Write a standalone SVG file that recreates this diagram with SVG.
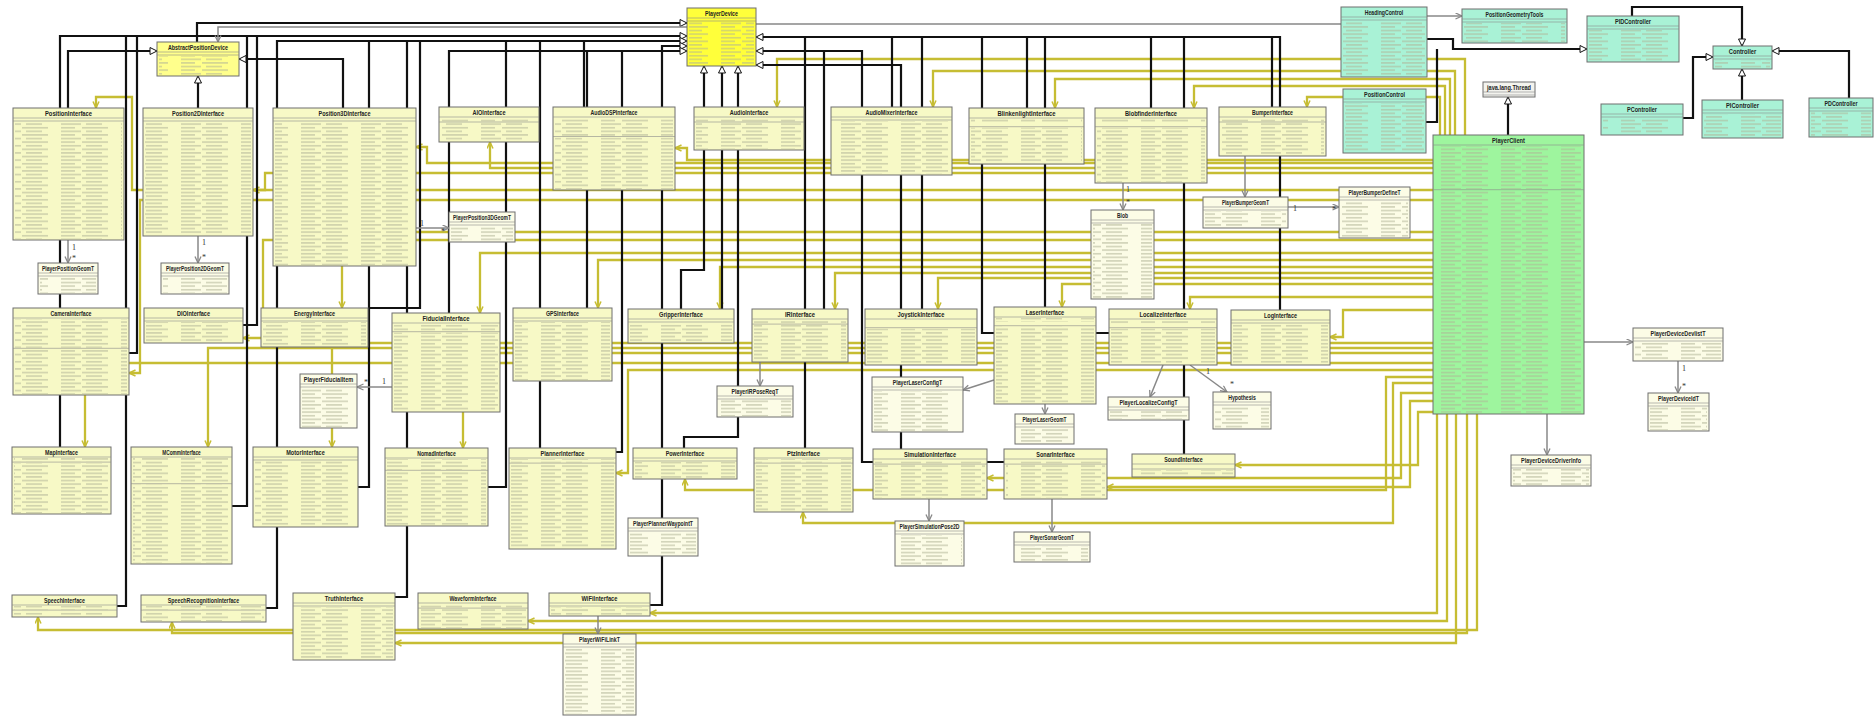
<svg xmlns="http://www.w3.org/2000/svg" width="1875" height="717" viewBox="0 0 1875 717">
<style>
.c{stroke:#6e6e6e;stroke-width:1}
.i{fill:#f7f9c6}.t{fill:#fcfce6}.pd{fill:#ffff3a}.ad{fill:#ffff8c}.gr{fill:#a9f2d6}.pc{fill:#9ef59e}.th{fill:#f3f3ee}
.n{font-family:"Liberation Sans",Arial,sans-serif;font-size:7px;font-weight:bold;fill:#222;text-anchor:middle}
.s{stroke:#8a8a8a;stroke-width:0.6;fill:none}
.m{fill:url(#tx)}
.k{fill:none;stroke:#111;stroke-width:2.2}
.o{fill:none;stroke:#c6bd33;stroke-width:2.3}
.a{fill:none;stroke:#888;stroke-width:1.5}
.lb{font-family:"Liberation Serif","Times New Roman",serif;font-size:8px;fill:#333}
.k.e{marker-end:url(#g)}.o{marker-end:url(#oa)}.a{marker-end:url(#ga)}
</style>
<defs>
<pattern id="tx" width="60" height="7.2" patternUnits="userSpaceOnUse"><rect x="1" y="1.3" width="20" height="0.9" fill="#b0b396"/><rect x="26" y="1.3" width="16" height="0.9" fill="#b0b396"/><rect x="1" y="4.9" width="14" height="0.9" fill="#b0b396"/><rect x="22" y="4.9" width="26" height="0.9" fill="#b0b396"/></pattern>
<marker id="g" markerUnits="userSpaceOnUse" markerWidth="10" markerHeight="10" refX="8" refY="4" orient="auto"><path d="M1,0.5 L8,4 L1,7.5 z" fill="#fff" stroke="#111" stroke-width="1"/></marker>
<marker id="oa" markerUnits="userSpaceOnUse" markerWidth="9" markerHeight="9" refX="7" refY="3.5" orient="auto"><path d="M0.5,0.5 L7,3.5 L0.5,6.5" fill="none" stroke="#c6bd33" stroke-width="1.5"/></marker>
<marker id="ga" markerUnits="userSpaceOnUse" markerWidth="9" markerHeight="9" refX="7" refY="3.5" orient="auto"><path d="M0.5,0.5 L7,3.5 L0.5,6.5" fill="none" stroke="#888" stroke-width="1.3"/></marker>
</defs>
<rect width="1875" height="717" fill="#fff"/>
<g id="connectors">
<g id="olive">
<path class="o" d="M1465,135V59H777V107"/>
<path class="o" d="M1455,135V71H933V107"/>
<path class="o" d="M1450,135V79H1055V108"/>
<path class="o" d="M1445,135V86H1194V108"/>
<path class="o" d="M1440,135V97H1307V107"/>
<path class="o" d="M1433,160H687V148H675"/>
<path class="o" d="M1433,163H427V147H416"/>
<path class="o" d="M1433,168H490V142"/>
<path class="o" d="M1433,173H265V190H253"/>
<path class="o" d="M1433,190H132V97H96V108"/>
<path class="o" d="M1433,200H140V373H129"/>
<path class="o" d="M1433,232H342V308"/>
<path class="o" d="M1433,240H263V338H243"/>
<path class="o" d="M1433,253H480V313"/>
<path class="o" d="M1433,260H598V308"/>
<path class="o" d="M1433,267H720V309"/>
<path class="o" d="M1433,273H835V309"/>
<path class="o" d="M1433,278H938V309"/>
<path class="o" d="M1433,284H1062V307"/>
<path class="o" d="M1433,297H1190V309"/>
<path class="o" d="M1433,310H1343V337H1330"/>
<path class="o" d="M1433,343H332V447"/>
<path class="o" d="M1433,348H208V447"/>
<path class="o" d="M1433,353H463V448"/>
<path class="o" d="M1433,363H85V447"/>
<path class="o" d="M1433,370H628V473H616"/>
<path class="o" d="M1433,377H1386V490H685V479"/>
<path class="o" d="M1433,383H1393V523H803V512"/>
<path class="o" d="M1433,393H1401V478H987"/>
<path class="o" d="M1433,401H1410V487H1107"/>
<path class="o" d="M1433,412H1418V465H1235"/>
<path class="o" d="M1437,414V613H650"/>
<path class="o" d="M1447,414V621H528"/>
<path class="o" d="M1477,414V630H38V617"/>
<path class="o" d="M1467,414V633H172V622"/>
<path class="o" d="M1456,414V643H395"/>
</g>
<g id="generalization">
<path class="k e" d="M197,42V23H687"/>
<path class="k e" d="M60,447V36H687"/>
<path class="k" d="M126,36V606H117"/>
<path class="k" d="M137,36V353H129"/>
<path class="k" d="M247,36V506H232"/>
<path class="k" d="M257,36V325H243"/>
<path class="k e" d="M266,608H277V41H687"/>
<path class="k" d="M358,487H369V41"/>
<path class="k" d="M395,597H407V41"/>
<path class="k" d="M368,308H420V41"/>
<path class="k" d="M488,487H506V41"/>
<path class="k" d="M540,448V41"/>
<path class="k" d="M584,107V41"/>
<path class="k e" d="M650,605H662V46H687"/>
<path class="k e" d="M449,313V51H687"/>
<path class="k" d="M587,308V51"/>
<path class="k" d="M616,452H622V51"/>
<path class="k e" d="M681,309V270H704V66"/>
<path class="k e" d="M722,309V66"/>
<path class="k e" d="M684,448V437H738V66"/>
<path class="k e" d="M68,108V51H157"/>
<path class="k e" d="M198,108V76"/>
<path class="k e" d="M343,108V59H239"/>
<path class="k e" d="M1280,310V37H756"/>
<path class="k" d="M1109,333H982V37"/>
<path class="k" d="M1027,108V37"/>
<path class="k" d="M1045,307V37"/>
<path class="k" d="M1151,108V37"/>
<path class="k" d="M1184,454V37"/>
<path class="k" d="M1272,107V37"/>
<path class="k" d="M892,107V37"/>
<path class="k" d="M922,309V37"/>
<path class="k" d="M805,448V37"/>
<path class="k e" d="M1004,462H862V51H756"/>
<path class="k" d="M824,309V51"/>
<path class="k e" d="M901,449V65H756"/>
<path class="k e" d="M1508,135V97"/>
<path class="k e" d="M1427,39H1453V49H1587"/>
<path class="k" d="M1426,122H1437V49"/>
<path class="k e" d="M1632,16V7H1742V46"/>
<path class="k e" d="M1683,118H1693V57H1713"/>
<path class="k e" d="M1742,100V69"/>
<path class="k e" d="M1849,98V51H1772"/>
</g>
<g id="associations">
<path class="a" d="M1341,24H720V27H218V42"/>
<path class="a" d="M1427,16H1462"/>
<path class="a" d="M68,240V263"/>
<path class="a" d="M198,236V263"/>
<path class="a" d="M416,228H449"/>
<path class="a" d="M392,387H357"/>
<path class="a" d="M760,362V386"/>
<path class="a" d="M994,380L963,390"/>
<path class="a" d="M1045,404V414"/>
<path class="a" d="M1163,365L1150,397"/>
<path class="a" d="M1190,365L1227,392"/>
<path class="a" d="M929,499V521"/>
<path class="a" d="M1052,499V532"/>
<path class="a" d="M1123,183V210"/>
<path class="a" d="M1245,156V197"/>
<path class="a" d="M1288,207H1339"/>
<path class="a" d="M1547,414V455"/>
<path class="a" d="M1584,342H1633"/>
<path class="a" d="M1678,361V393"/>
<path class="a" d="M598,616V634"/>
</g>
</g>
<g id="nodes">
<g id="PlayerDevice"><rect class="c pd" x="687" y="8" width="69" height="58"/><text class="n" x="721.5" y="15.5" textLength="33" lengthAdjust="spacingAndGlyphs">PlayerDevice</text><path class="s" d="M687,18H756M687,21H756"/><rect class="m" x="689" y="22" width="65" height="43"/></g>
<g id="AbstractPositionDevice"><rect class="c ad" x="157" y="42" width="82" height="34"/><text class="n" x="198" y="49.5" textLength="60" lengthAdjust="spacingAndGlyphs">AbstractPositionDevice</text><path class="s" d="M157,52H239M157,55H239"/><rect class="m" x="159" y="56" width="78" height="19"/></g>
<g id="PositionInterface"><rect class="c i" x="13" y="108" width="111" height="132"/><text class="n" x="68.5" y="115.5" textLength="47" lengthAdjust="spacingAndGlyphs">PositionInterface</text><path class="s" d="M13,118H124M13,121H124"/><rect class="m" x="15" y="122" width="107" height="117"/></g>
<g id="Position2DInterface"><rect class="c i" x="143" y="108" width="110" height="128"/><text class="n" x="198" y="115.5" textLength="52" lengthAdjust="spacingAndGlyphs">Position2DInterface</text><path class="s" d="M143,118H253M143,121H253"/><rect class="m" x="145" y="122" width="106" height="113"/></g>
<g id="Position3DInterface"><rect class="c i" x="273" y="108" width="143" height="158"/><text class="n" x="344.5" y="115.5" textLength="52" lengthAdjust="spacingAndGlyphs">Position3DInterface</text><path class="s" d="M273,118H416M273,121H416"/><rect class="m" x="275" y="122" width="139" height="143"/></g>
<g id="AIOInterface"><rect class="c i" x="439" y="107" width="100" height="35"/><text class="n" x="489" y="114.5" textLength="33" lengthAdjust="spacingAndGlyphs">AIOInterface</text><path class="s" d="M439,117H539M439,122H539"/><rect class="m" x="441" y="118" width="96" height="3.6"/><rect class="m" x="441" y="123" width="96" height="18"/></g>
<g id="AudioDSPInterface"><rect class="c i" x="553" y="107" width="122" height="83"/><text class="n" x="614" y="114.5" textLength="47" lengthAdjust="spacingAndGlyphs">AudioDSPInterface</text><path class="s" d="M553,117H675M553,136.5H675"/><rect class="m" x="555" y="118" width="118" height="18"/><rect class="m" x="555" y="137.5" width="118" height="51.5"/></g>
<g id="AudioInterface"><rect class="c i" x="694" y="107" width="110" height="43"/><text class="n" x="749" y="114.5" textLength="38.5" lengthAdjust="spacingAndGlyphs">AudioInterface</text><path class="s" d="M694,117H804M694,122H804"/><rect class="m" x="696" y="118" width="106" height="3.6"/><rect class="m" x="696" y="123" width="106" height="26"/></g>
<g id="AudioMixerInterface"><rect class="c i" x="831" y="107" width="121" height="68"/><text class="n" x="891.5" y="114.5" textLength="52" lengthAdjust="spacingAndGlyphs">AudioMixerInterface</text><path class="s" d="M831,117H952M831,120H952"/><rect class="m" x="833" y="121" width="117" height="53"/></g>
<g id="BlinkenlightInterface"><rect class="c i" x="969" y="108" width="115" height="56"/><text class="n" x="1026.5" y="115.5" textLength="58" lengthAdjust="spacingAndGlyphs">BlinkenlightInterface</text><path class="s" d="M969,118H1084M969,126.7H1084"/><rect class="m" x="971" y="119" width="111" height="3.6"/><rect class="m" x="971" y="127.7" width="111" height="35"/></g>
<g id="BlobfinderInterface"><rect class="c i" x="1095" y="108" width="112" height="75"/><text class="n" x="1151" y="115.5" textLength="52" lengthAdjust="spacingAndGlyphs">BlobfinderInterface</text><path class="s" d="M1095,118H1207M1095,126.7H1207"/><rect class="m" x="1097" y="119" width="108" height="3.6"/><rect class="m" x="1097" y="127.7" width="108" height="54"/></g>
<g id="BumperInterface"><rect class="c i" x="1219" y="107" width="107" height="49"/><text class="n" x="1272.5" y="114.5" textLength="41" lengthAdjust="spacingAndGlyphs">BumperInterface</text><path class="s" d="M1219,117H1326M1219,122H1326"/><rect class="m" x="1221" y="118" width="103" height="3.6"/><rect class="m" x="1221" y="123" width="103" height="32"/></g>
<g id="HeadingControl"><rect class="c gr" x="1341" y="7" width="86" height="70"/><text class="n" x="1384" y="14.5" textLength="38.5" lengthAdjust="spacingAndGlyphs">HeadingControl</text><path class="s" d="M1341,17H1427M1341,20H1427"/><rect class="m" x="1343" y="21" width="82" height="55"/></g>
<g id="PositionGeometryTools"><rect class="c gr" x="1462" y="9" width="105" height="34"/><text class="n" x="1514.5" y="16.5" textLength="58" lengthAdjust="spacingAndGlyphs">PositionGeometryTools</text><path class="s" d="M1462,19H1567M1462,22H1567"/><rect class="m" x="1464" y="23" width="101" height="19"/></g>
<g id="PositionControl"><rect class="c gr" x="1343" y="89" width="83" height="64"/><text class="n" x="1384.5" y="96.5" textLength="41" lengthAdjust="spacingAndGlyphs">PositionControl</text><path class="s" d="M1343,99H1426M1343,102H1426"/><rect class="m" x="1345" y="103" width="79" height="49"/></g>
<g id="java.lang.Thread"><rect class="c th" x="1483" y="82" width="52" height="15"/><text class="n" x="1509" y="89.5" textLength="44" lengthAdjust="spacingAndGlyphs">java.lang.Thread</text><path class="s" d="M1483,92H1535M1483,95H1535"/></g>
<g id="PlayerClient"><rect class="c pc" x="1433" y="135" width="151" height="279"/><text class="n" x="1508.5" y="142.5" textLength="33" lengthAdjust="spacingAndGlyphs">PlayerClient</text><path class="s" d="M1433,145H1584M1433,189.7H1584"/><rect class="m" x="1435" y="146" width="147" height="43.2"/><rect class="m" x="1435" y="190.7" width="147" height="222"/></g>
<g id="PIDController"><rect class="c gr" x="1587" y="16" width="92" height="46"/><text class="n" x="1633" y="23.5" textLength="36" lengthAdjust="spacingAndGlyphs">PIDController</text><path class="s" d="M1587,26H1679M1587,29H1679"/><rect class="m" x="1589" y="30" width="88" height="31"/></g>
<g id="Controller"><rect class="c gr" x="1713" y="46" width="59" height="23"/><text class="n" x="1742.5" y="53.5" textLength="27.5" lengthAdjust="spacingAndGlyphs">Controller</text><path class="s" d="M1713,56H1772M1713,59H1772"/><rect class="m" x="1715" y="60" width="55" height="8"/></g>
<g id="PController"><rect class="c gr" x="1601" y="104" width="82" height="31"/><text class="n" x="1642" y="111.5" textLength="30" lengthAdjust="spacingAndGlyphs">PController</text><path class="s" d="M1601,114H1683M1601,117H1683"/><rect class="m" x="1603" y="118" width="78" height="16"/></g>
<g id="PIController"><rect class="c gr" x="1702" y="100" width="81" height="38"/><text class="n" x="1742.5" y="107.5" textLength="33" lengthAdjust="spacingAndGlyphs">PIController</text><path class="s" d="M1702,110H1783M1702,113H1783"/><rect class="m" x="1704" y="114" width="77" height="23"/></g>
<g id="PDController"><rect class="c gr" x="1809" y="98" width="64" height="39"/><text class="n" x="1841" y="105.5" textLength="33" lengthAdjust="spacingAndGlyphs">PDController</text><path class="s" d="M1809,108H1873M1809,111H1873"/><rect class="m" x="1811" y="112" width="60" height="24"/></g>
<g id="PlayerPositionGeomT"><rect class="c t" x="38" y="263" width="60" height="31"/><text class="n" x="68" y="270.5" textLength="52" lengthAdjust="spacingAndGlyphs">PlayerPositionGeomT</text><path class="s" d="M38,273H98M38,276H98"/><rect class="m" x="40" y="277" width="56" height="16"/></g>
<g id="PlayerPosition2DGeomT"><rect class="c t" x="161" y="263" width="68" height="31"/><text class="n" x="195" y="270.5" textLength="58" lengthAdjust="spacingAndGlyphs">PlayerPosition2DGeomT</text><path class="s" d="M161,273H229M161,276H229"/><rect class="m" x="163" y="277" width="64" height="16"/></g>
<g id="PlayerPosition3DGeomT"><rect class="c t" x="449" y="212" width="66" height="30"/><text class="n" x="482" y="219.5" textLength="58" lengthAdjust="spacingAndGlyphs">PlayerPosition3DGeomT</text><path class="s" d="M449,222H515M449,225H515"/><rect class="m" x="451" y="226" width="62" height="15"/></g>
<g id="Blob"><rect class="c t" x="1091" y="210" width="63" height="89"/><text class="n" x="1122.5" y="217.5" textLength="11" lengthAdjust="spacingAndGlyphs">Blob</text><path class="s" d="M1091,220H1154M1091,223H1154"/><rect class="m" x="1093" y="224" width="59" height="74"/></g>
<g id="PlayerBumperGeomT"><rect class="c t" x="1203" y="197" width="85" height="31"/><text class="n" x="1245.5" y="204.5" textLength="47" lengthAdjust="spacingAndGlyphs">PlayerBumperGeomT</text><path class="s" d="M1203,207H1288M1203,210H1288"/><rect class="m" x="1205" y="211" width="81" height="16"/></g>
<g id="PlayerBumperDefineT"><rect class="c t" x="1339" y="187" width="71" height="51"/><text class="n" x="1374.5" y="194.5" textLength="52" lengthAdjust="spacingAndGlyphs">PlayerBumperDefineT</text><path class="s" d="M1339,197H1410M1339,200H1410"/><rect class="m" x="1341" y="201" width="67" height="36"/></g>
<g id="CameraInterface"><rect class="c i" x="13" y="308" width="116" height="87"/><text class="n" x="71" y="315.5" textLength="41" lengthAdjust="spacingAndGlyphs">CameraInterface</text><path class="s" d="M13,318H129M13,348.3H129"/><rect class="m" x="15" y="319" width="112" height="28.8"/><rect class="m" x="15" y="349.3" width="112" height="44.7"/></g>
<g id="DIOInterface"><rect class="c i" x="144" y="308" width="99" height="35"/><text class="n" x="193.5" y="315.5" textLength="33" lengthAdjust="spacingAndGlyphs">DIOInterface</text><path class="s" d="M144,318H243M144,321H243"/><rect class="m" x="146" y="322" width="95" height="20"/></g>
<g id="EnergyInterface"><rect class="c i" x="261" y="308" width="107" height="39"/><text class="n" x="314.5" y="315.5" textLength="41" lengthAdjust="spacingAndGlyphs">EnergyInterface</text><path class="s" d="M261,318H368M261,321H368"/><rect class="m" x="263" y="322" width="103" height="24"/></g>
<g id="FiducialInterface"><rect class="c i" x="392" y="313" width="108" height="99"/><text class="n" x="446" y="320.5" textLength="47" lengthAdjust="spacingAndGlyphs">FiducialInterface</text><path class="s" d="M392,323H500M392,331.7H500"/><rect class="m" x="394" y="324" width="104" height="7.2"/><rect class="m" x="394" y="332.7" width="104" height="78"/></g>
<g id="GPSInterface"><rect class="c i" x="513" y="308" width="99" height="73"/><text class="n" x="562.5" y="315.5" textLength="33" lengthAdjust="spacingAndGlyphs">GPSInterface</text><path class="s" d="M513,318H612M513,321H612"/><rect class="m" x="515" y="322" width="95" height="58"/></g>
<g id="GripperInterface"><rect class="c i" x="628" y="309" width="106" height="34"/><text class="n" x="681" y="316.5" textLength="44" lengthAdjust="spacingAndGlyphs">GripperInterface</text><path class="s" d="M628,319H734M628,322H734"/><rect class="m" x="630" y="323" width="102" height="19"/></g>
<g id="IRInterface"><rect class="c i" x="752" y="309" width="96" height="53"/><text class="n" x="800" y="316.5" textLength="30" lengthAdjust="spacingAndGlyphs">IRInterface</text><path class="s" d="M752,319H848M752,324.1H848"/><rect class="m" x="754" y="320" width="92" height="3.6"/><rect class="m" x="754" y="325" width="92" height="36"/></g>
<g id="JoystickInterface"><rect class="c i" x="865" y="309" width="112" height="56"/><text class="n" x="921" y="316.5" textLength="47" lengthAdjust="spacingAndGlyphs">JoystickInterface</text><path class="s" d="M865,319H977M865,327.7H977"/><rect class="m" x="867" y="328.7" width="108" height="35"/></g>
<g id="LaserInterface"><rect class="c i" x="994" y="307" width="102" height="97"/><text class="n" x="1045" y="314.5" textLength="38.5" lengthAdjust="spacingAndGlyphs">LaserInterface</text><path class="s" d="M994,317H1096M994,325.7H1096"/><rect class="m" x="996" y="318" width="98" height="3.6"/><rect class="m" x="996" y="326.7" width="98" height="76"/></g>
<g id="LocalizeInterface"><rect class="c i" x="1109" y="309" width="108" height="56"/><text class="n" x="1163" y="316.5" textLength="47" lengthAdjust="spacingAndGlyphs">LocalizeInterface</text><path class="s" d="M1109,319H1217M1109,327.7H1217"/><rect class="m" x="1111" y="320" width="104" height="3.6"/><rect class="m" x="1111" y="328.7" width="104" height="35"/></g>
<g id="LogInterface"><rect class="c i" x="1231" y="310" width="99" height="55"/><text class="n" x="1280.5" y="317.5" textLength="33" lengthAdjust="spacingAndGlyphs">LogInterface</text><path class="s" d="M1231,320H1330M1231,323H1330"/><rect class="m" x="1233" y="324" width="95" height="40"/></g>
<g id="PlayerFiducialItem"><rect class="c t" x="300" y="374" width="57" height="54"/><text class="n" x="328.5" y="381.5" textLength="49.5" lengthAdjust="spacingAndGlyphs">PlayerFiducialItem</text><path class="s" d="M300,384H357M300,387H357"/><rect class="m" x="302" y="388" width="53" height="39"/></g>
<g id="PlayerIRPoseReqT"><rect class="c t" x="717" y="386" width="76" height="31"/><text class="n" x="755" y="393.5" textLength="47" lengthAdjust="spacingAndGlyphs">PlayerIRPoseReqT</text><path class="s" d="M717,396H793M717,399H793"/><rect class="m" x="719" y="400" width="72" height="16"/></g>
<g id="PlayerLaserConfigT"><rect class="c t" x="872" y="377" width="91" height="55"/><text class="n" x="917.5" y="384.5" textLength="49.5" lengthAdjust="spacingAndGlyphs">PlayerLaserConfigT</text><path class="s" d="M872,387H963M872,390H963"/><rect class="m" x="874" y="391" width="87" height="40"/></g>
<g id="PlayerLaserGeomT"><rect class="c t" x="1015" y="414" width="59" height="30"/><text class="n" x="1044.5" y="421.5" textLength="44" lengthAdjust="spacingAndGlyphs">PlayerLaserGeomT</text><path class="s" d="M1015,424H1074M1015,427H1074"/><rect class="m" x="1017" y="428" width="55" height="15"/></g>
<g id="PlayerLocalizeConfigT"><rect class="c t" x="1108" y="397" width="81" height="23"/><text class="n" x="1148.5" y="404.5" textLength="58" lengthAdjust="spacingAndGlyphs">PlayerLocalizeConfigT</text><path class="s" d="M1108,407H1189M1108,410H1189"/><rect class="m" x="1110" y="411" width="77" height="8"/></g>
<g id="Hypothesis"><rect class="c t" x="1213" y="392" width="58" height="37"/><text class="n" x="1242" y="399.5" textLength="27.5" lengthAdjust="spacingAndGlyphs">Hypothesis</text><path class="s" d="M1213,402H1271M1213,405H1271"/><rect class="m" x="1215" y="406" width="54" height="22"/></g>
<g id="MapInterface"><rect class="c i" x="12" y="447" width="99" height="67"/><text class="n" x="61.5" y="454.5" textLength="33" lengthAdjust="spacingAndGlyphs">MapInterface</text><path class="s" d="M12,457H111M12,462.1H111"/><rect class="m" x="14" y="458" width="95" height="3.6"/><rect class="m" x="14" y="463" width="95" height="50"/></g>
<g id="MCommInterface"><rect class="c i" x="131" y="447" width="101" height="117"/><text class="n" x="181.5" y="454.5" textLength="38.5" lengthAdjust="spacingAndGlyphs">MCommInterface</text><path class="s" d="M131,457H232M131,483.7H232"/><rect class="m" x="133" y="458" width="97" height="25.2"/><rect class="m" x="133" y="484.7" width="97" height="78"/></g>
<g id="MotorInterface"><rect class="c i" x="253" y="447" width="105" height="80"/><text class="n" x="305.5" y="454.5" textLength="38.5" lengthAdjust="spacingAndGlyphs">MotorInterface</text><path class="s" d="M253,457H358M253,460H358"/><rect class="m" x="255" y="461" width="101" height="65"/></g>
<g id="NomadInterface"><rect class="c i" x="385" y="448" width="103" height="78"/><text class="n" x="436.5" y="455.5" textLength="38.5" lengthAdjust="spacingAndGlyphs">NomadInterface</text><path class="s" d="M385,458H488M385,470.3H488"/><rect class="m" x="387" y="459" width="99" height="10.8"/><rect class="m" x="387" y="471.3" width="99" height="54"/></g>
<g id="PlannerInterface"><rect class="c i" x="509" y="448" width="107" height="101"/><text class="n" x="562.5" y="455.5" textLength="44" lengthAdjust="spacingAndGlyphs">PlannerInterface</text><path class="s" d="M509,458H616M509,463.1H616"/><rect class="m" x="511" y="459" width="103" height="3.6"/><rect class="m" x="511" y="464" width="103" height="84"/></g>
<g id="PowerInterface"><rect class="c i" x="633" y="448" width="104" height="31"/><text class="n" x="685" y="455.5" textLength="38.5" lengthAdjust="spacingAndGlyphs">PowerInterface</text><path class="s" d="M633,458H737M633,461H737"/><rect class="m" x="635" y="462" width="100" height="16"/></g>
<g id="PtzInterface"><rect class="c i" x="754" y="448" width="99" height="64"/><text class="n" x="803.5" y="455.5" textLength="33" lengthAdjust="spacingAndGlyphs">PtzInterface</text><path class="s" d="M754,458H853M754,463.1H853"/><rect class="m" x="756" y="459" width="95" height="3.6"/><rect class="m" x="756" y="464" width="95" height="47"/></g>
<g id="SimulationInterface"><rect class="c i" x="873" y="449" width="114" height="50"/><text class="n" x="930" y="456.5" textLength="52" lengthAdjust="spacingAndGlyphs">SimulationInterface</text><path class="s" d="M873,459H987M873,464.1H987"/><rect class="m" x="875" y="460" width="110" height="3.6"/><rect class="m" x="875" y="465" width="110" height="33"/></g>
<g id="SonarInterface"><rect class="c i" x="1004" y="449" width="103" height="50"/><text class="n" x="1055.5" y="456.5" textLength="38.5" lengthAdjust="spacingAndGlyphs">SonarInterface</text><path class="s" d="M1004,459H1107M1004,464.1H1107"/><rect class="m" x="1006" y="460" width="99" height="3.6"/><rect class="m" x="1006" y="465" width="99" height="33"/></g>
<g id="SoundInterface"><rect class="c i" x="1132" y="454" width="103" height="23"/><text class="n" x="1183.5" y="461.5" textLength="38.5" lengthAdjust="spacingAndGlyphs">SoundInterface</text><path class="s" d="M1132,464H1235M1132,469H1235"/><rect class="m" x="1134" y="470" width="99" height="6"/></g>
<g id="PlayerPlannerWaypointT"><rect class="c t" x="628" y="518" width="70" height="38"/><text class="n" x="663" y="525.5" textLength="60" lengthAdjust="spacingAndGlyphs">PlayerPlannerWaypointT</text><path class="s" d="M628,528H698M628,531H698"/><rect class="m" x="630" y="532" width="66" height="23"/></g>
<g id="PlayerSimulationPose2D"><rect class="c t" x="895" y="521" width="69" height="45"/><text class="n" x="929.5" y="528.5" textLength="60" lengthAdjust="spacingAndGlyphs">PlayerSimulationPose2D</text><path class="s" d="M895,531H964M895,534H964"/><rect class="m" x="897" y="535" width="65" height="30"/></g>
<g id="PlayerSonarGeomT"><rect class="c t" x="1014" y="532" width="76" height="30"/><text class="n" x="1052" y="539.5" textLength="44" lengthAdjust="spacingAndGlyphs">PlayerSonarGeomT</text><path class="s" d="M1014,542H1090M1014,545H1090"/><rect class="m" x="1016" y="546" width="72" height="15"/></g>
<g id="PlayerDeviceDevlistT"><rect class="c t" x="1633" y="328" width="90" height="33"/><text class="n" x="1678" y="335.5" textLength="55" lengthAdjust="spacingAndGlyphs">PlayerDeviceDevlistT</text><path class="s" d="M1633,338H1723M1633,341H1723"/><rect class="m" x="1635" y="342" width="86" height="18"/></g>
<g id="PlayerDeviceIdT"><rect class="c t" x="1648" y="393" width="61" height="38"/><text class="n" x="1678.5" y="400.5" textLength="41" lengthAdjust="spacingAndGlyphs">PlayerDeviceIdT</text><path class="s" d="M1648,403H1709M1648,406H1709"/><rect class="m" x="1650" y="407" width="57" height="23"/></g>
<g id="PlayerDeviceDriverInfo"><rect class="c t" x="1511" y="455" width="80" height="31"/><text class="n" x="1551" y="462.5" textLength="60" lengthAdjust="spacingAndGlyphs">PlayerDeviceDriverInfo</text><path class="s" d="M1511,465H1591M1511,468H1591"/><rect class="m" x="1513" y="469" width="76" height="16"/></g>
<g id="SpeechInterface"><rect class="c i" x="12" y="595" width="105" height="22"/><text class="n" x="64.5" y="602.5" textLength="41" lengthAdjust="spacingAndGlyphs">SpeechInterface</text><path class="s" d="M12,605H117M12,610.1H117"/><rect class="m" x="14" y="606" width="101" height="3.6"/><rect class="m" x="14" y="611" width="101" height="5"/></g>
<g id="SpeechRecognitionInterface"><rect class="c i" x="141" y="595" width="125" height="27"/><text class="n" x="203.5" y="602.5" textLength="71.5" lengthAdjust="spacingAndGlyphs">SpeechRecognitionInterface</text><path class="s" d="M141,605H266M141,610.1H266"/><rect class="m" x="143" y="606" width="121" height="3.6"/><rect class="m" x="143" y="611" width="121" height="10"/></g>
<g id="TruthInterface"><rect class="c i" x="293" y="593" width="102" height="67"/><text class="n" x="344" y="600.5" textLength="38.5" lengthAdjust="spacingAndGlyphs">TruthInterface</text><path class="s" d="M293,603H395M293,606H395"/><rect class="m" x="295" y="607" width="98" height="52"/></g>
<g id="WaveformInterface"><rect class="c i" x="418" y="593" width="110" height="36"/><text class="n" x="473" y="600.5" textLength="47" lengthAdjust="spacingAndGlyphs">WaveformInterface</text><path class="s" d="M418,603H528M418,608.1H528"/><rect class="m" x="420" y="604" width="106" height="3.6"/><rect class="m" x="420" y="609" width="106" height="19"/></g>
<g id="WiFiInterface"><rect class="c i" x="549" y="593" width="101" height="23"/><text class="n" x="599.5" y="600.5" textLength="36" lengthAdjust="spacingAndGlyphs">WiFiInterface</text><path class="s" d="M549,603H650M549,606H650"/><rect class="m" x="551" y="607" width="97" height="8"/></g>
<g id="PlayerWiFiLinkT"><rect class="c t" x="563" y="634" width="73" height="81"/><text class="n" x="599.5" y="641.5" textLength="41" lengthAdjust="spacingAndGlyphs">PlayerWiFiLinkT</text><path class="s" d="M563,644H636M563,647H636"/><rect class="m" x="565" y="648" width="69" height="66"/></g>
</g>
<g id="multiplicities">
<text class="lb" x="72" y="250">1</text><text class="lb" x="72" y="261">*</text>
<text class="lb" x="202" y="245">1</text><text class="lb" x="202" y="260">*</text>
<text class="lb" x="420" y="226">1</text><text class="lb" x="441" y="234">*</text>
<text class="lb" x="382" y="384">1</text><text class="lb" x="364" y="385">*</text>
<text class="lb" x="1126" y="192">1</text><text class="lb" x="1126" y="205">*</text>
<text class="lb" x="1293" y="211">1</text><text class="lb" x="1332" y="212">*</text>
<text class="lb" x="1206" y="374">1</text><text class="lb" x="1230" y="387">*</text>
<text class="lb" x="1682" y="371">1</text><text class="lb" x="1682" y="389">*</text>
</g>
</svg>
